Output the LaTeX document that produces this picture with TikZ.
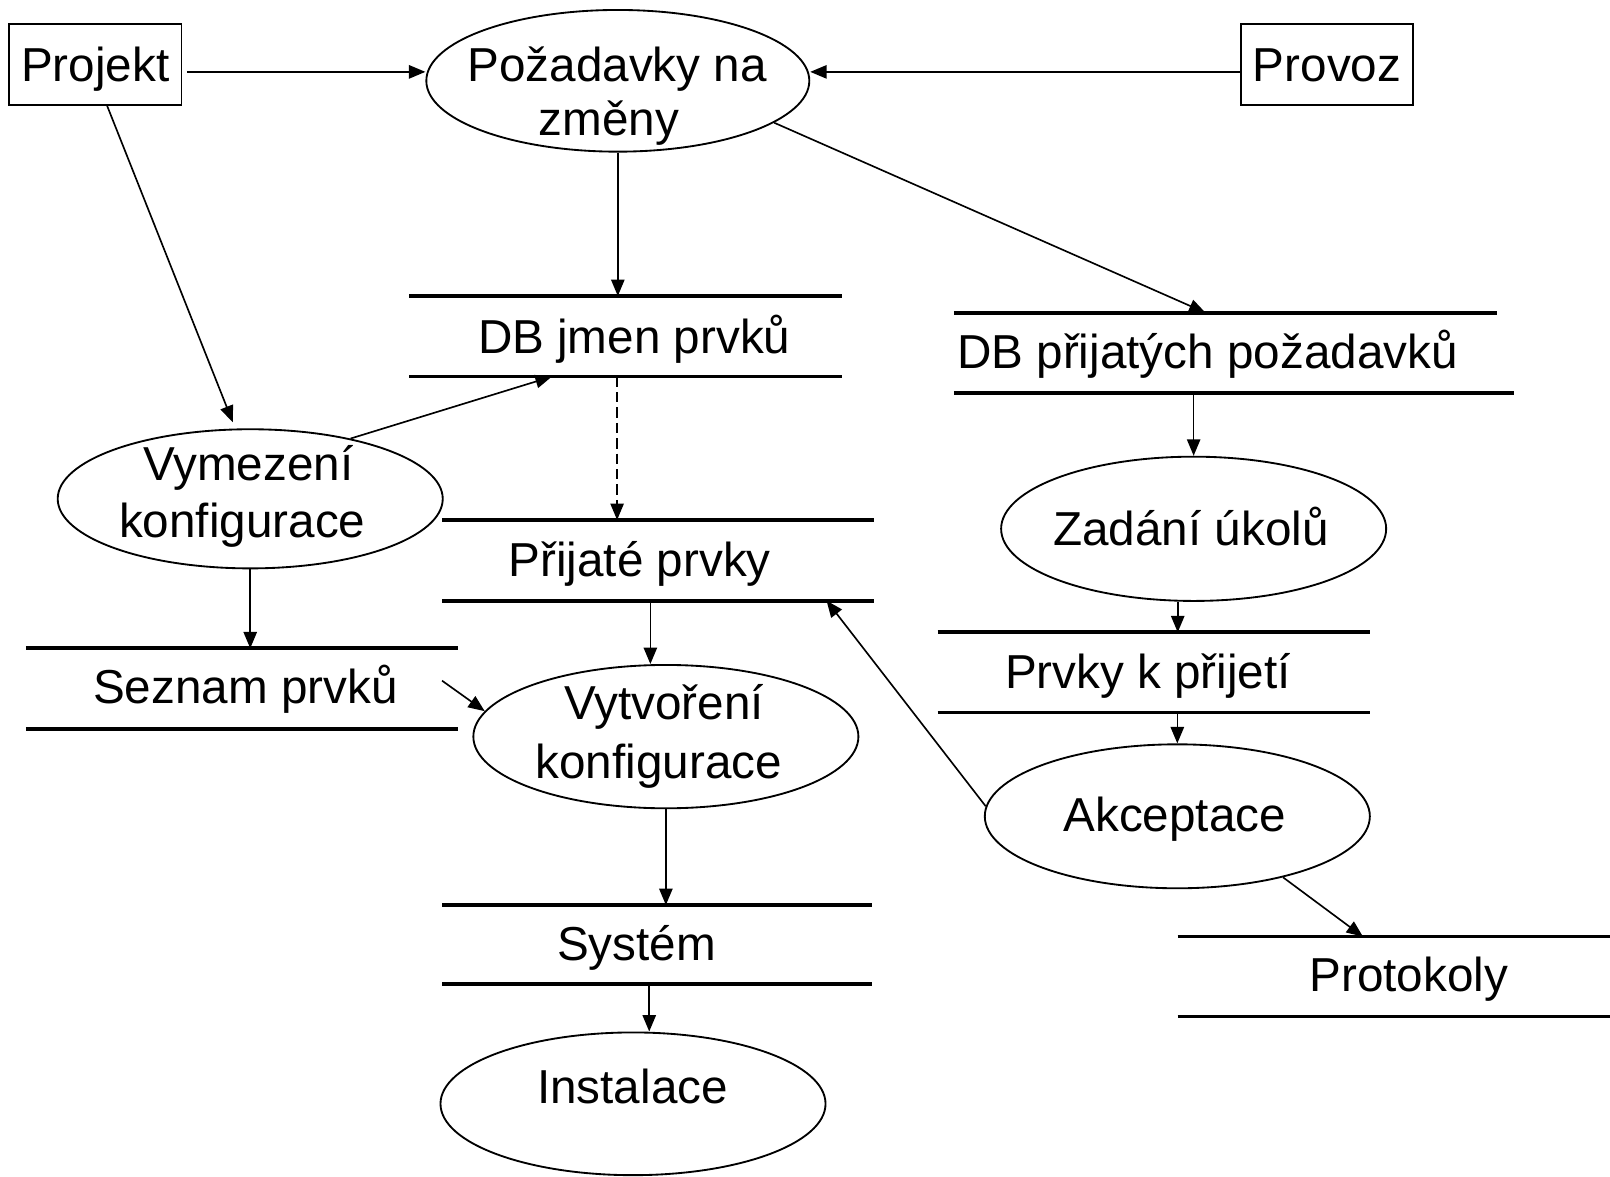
\documentclass[tikz,border=0pt]{standalone}
\usepackage{fontspec}
\setmainfont{Liberation Sans}
\usetikzlibrary{shapes.geometric,arrows.meta}
\begin{document}
\begin{tikzpicture}[x=0.5pt,y=-0.5pt,
  txt/.style={font=\fontsize{23.2pt}{27.5pt}\selectfont, inner sep=0pt, anchor=base},
  proc/.style={draw, line width=0.9pt, ellipse, inner sep=0pt, minimum width=187.5pt, minimum height=69.5pt},
  ent/.style={draw, line width=0.9pt, rectangle, inner sep=0pt, minimum width=84pt, minimum height=39.3pt},
  store/.style={rectangle, inner sep=0pt, outer sep=0pt},
  sline/.style={line width=1.8pt},
  arr/.style={line width=0.8pt, -{Triangle[length=8pt,width=6.5pt]}},
  dsh/.style={dash pattern=on 5pt off 2.5pt},
]
\useasboundingbox (0,0) rectangle (1568,1146);

% boxes
\node[ent] (proj) at (92.7,63) {};
\node[ent] (prov) at (1292.5,63) {};
\node[txt] (projt) at (92.7,79) {Projekt};
\node[txt] (provt) at (1292.5,79) {Provoz};

% ellipses
\node[proc, minimum width=186.5pt, minimum height=69pt] (pz) at (601.7,78.7) {};
\node[proc, minimum height=67.75pt] (vy) at (243.7,485.8) {};
\node[proc, minimum height=69.8pt] (vt) at (648.5,717.4) {};
\node[proc, minimum height=70.25pt] (za) at (1162.5,515) {};
\node[proc, minimum height=70.1pt] (ak) at (1146.6,795) {};
\node[proc] (in) at (616.5,1075) {};

\node[txt] (pz1) at (601,79) {Požadavky na};
\node[txt] (pz2) at (593,132) {změny};
\node[txt] (vy1) at (242,467.5) {Vymezení};
\node[txt] (vy2) at (236,523.6) {konfigurace};
\node[txt] (vt1) at (647,701) {Vytvoření};
\node[txt] (vt2) at (641.5,757.7) {konfigurace};
\node[txt] (zat) at (1160,530.8) {Zadání úkolů};
\node[txt] (akt) at (1144,810) {Akceptace};
\node[txt] (int) at (616,1074.5) {Instalace};

% stores
\node[store, minimum width=210.6pt, minimum height=39.25pt] (dbj) at (609.4,327.55) {};
\node[store, minimum width=264.6pt, minimum height=39.25pt] (dbp) at (1193.6,343.75) {};
\node[store, minimum width=210.2pt, minimum height=39.3pt] (pr) at (640.7,545.7) {};
\node[store, minimum width=210.25pt, minimum height=39.3pt] (sez) at (235.35,670.7) {};
\node[store, minimum width=210.45pt, minimum height=39.1pt] (pk) at (1123.55,654.9) {};
\node[store, minimum width=209.25pt, minimum height=38.6pt] (sy) at (640.15,920) {};
\node[store, minimum width=210.5pt, minimum height=38.95pt] (pro) at (1357.5,951.15) {};

\draw[sline] (dbj.north west) -- (dbj.north east) (dbj.south west) -- (dbj.south east);
\draw[sline] (dbp.north west) -- (dbp.north east) (dbp.south west) -- ([shift={(16.1,0)}]dbp.south east);
\draw[sline] (pr.north west) -- (pr.north east) (pr.south west) -- (pr.south east);
\draw[sline] (sez.north west) -- (sez.north east) (sez.south west) -- (sez.south east);
\draw[sline] (pk.north west) -- (pk.north east) (pk.south west) -- (pk.south east);
\draw[sline] (sy.north west) -- (sy.north east) (sy.south west) -- (sy.south east);
\draw[sline] (pro.north west) -- (pro.north east) (pro.south west) -- (pro.south east);

\node[txt] (dbjt) at (617.7,344) {DB jmen prvků};
\node[txt] (dbpt) at (1176,359) {DB přijatých požadavků};
\node[txt] (prt) at (623,561.6) {Přijaté prvky};
\node[txt] (sezt) at (239,684.7) {Seznam prvků};
\node[txt] (pkt) at (1118,670.3) {Prvky k přijetí};
\node[txt] (syt) at (620,935) {Systém};
\node[txt] (prot) at (1372,966) {Protokoly};

% connectors
\draw[arr] ([shift={(5,7)}]proj.east) -- ([shift={(0,-8.7)}]pz.west);
\draw[arr] ([shift={(0,7)}]prov.west) -- ([shift={(0,-8.7)}]pz.east);
\draw[arr] (pz.south) -- (pz.south |- dbj.north);
\draw[arr] (pz.-15) -- ([shift={(245,0)}]dbp.north west);
\draw[arr] ([shift={(11.7,0)}]proj.south) -- ([shift={(-17,-6)}]vy.north);
\draw[arr] (vy.31) -- ([shift={(138.6,0)}]dbj.south west);
\draw[arr] (vy.south) -- (vy.south |- sez.north);
\draw[arr, dsh] ([shift={(-8.4,0)}]dbj.south) -- ([shift={(-8.4,0)}]dbj.south |- pr.north);
\draw[arr] ([shift={(-7.3,0)}]pr.south) -- ([shift={(-7.3,0)}]pr.south |- vt.north);
\draw[arr] ([shift={(-15.1,-7.8)}]sez.east) -- (vt.172);
\draw[arr] (vt.south) -- (vt.south |- sy.north);
\draw[arr] ([shift={(-7.85,0)}]sy.south) -- ([shift={(-7.85,0)}]sy.south |- in.north);
\draw[arr] (za.north |- dbp.south) -- (za.north);
\draw[arr] ([shift={(-15.5,0)}]za.south) -- ([shift={(-15.5,0)}]za.south |- pk.north);
\draw[arr] (ak.north |- pk.south) -- (ak.north);
\draw[arr] (ak.177) -- ([shift={(-45.9,0)}]pr.south east);
\draw[arr] (ak.-30.5) -- ([shift={(180.4,0)}]pro.north west);
\end{tikzpicture}
\end{document}
